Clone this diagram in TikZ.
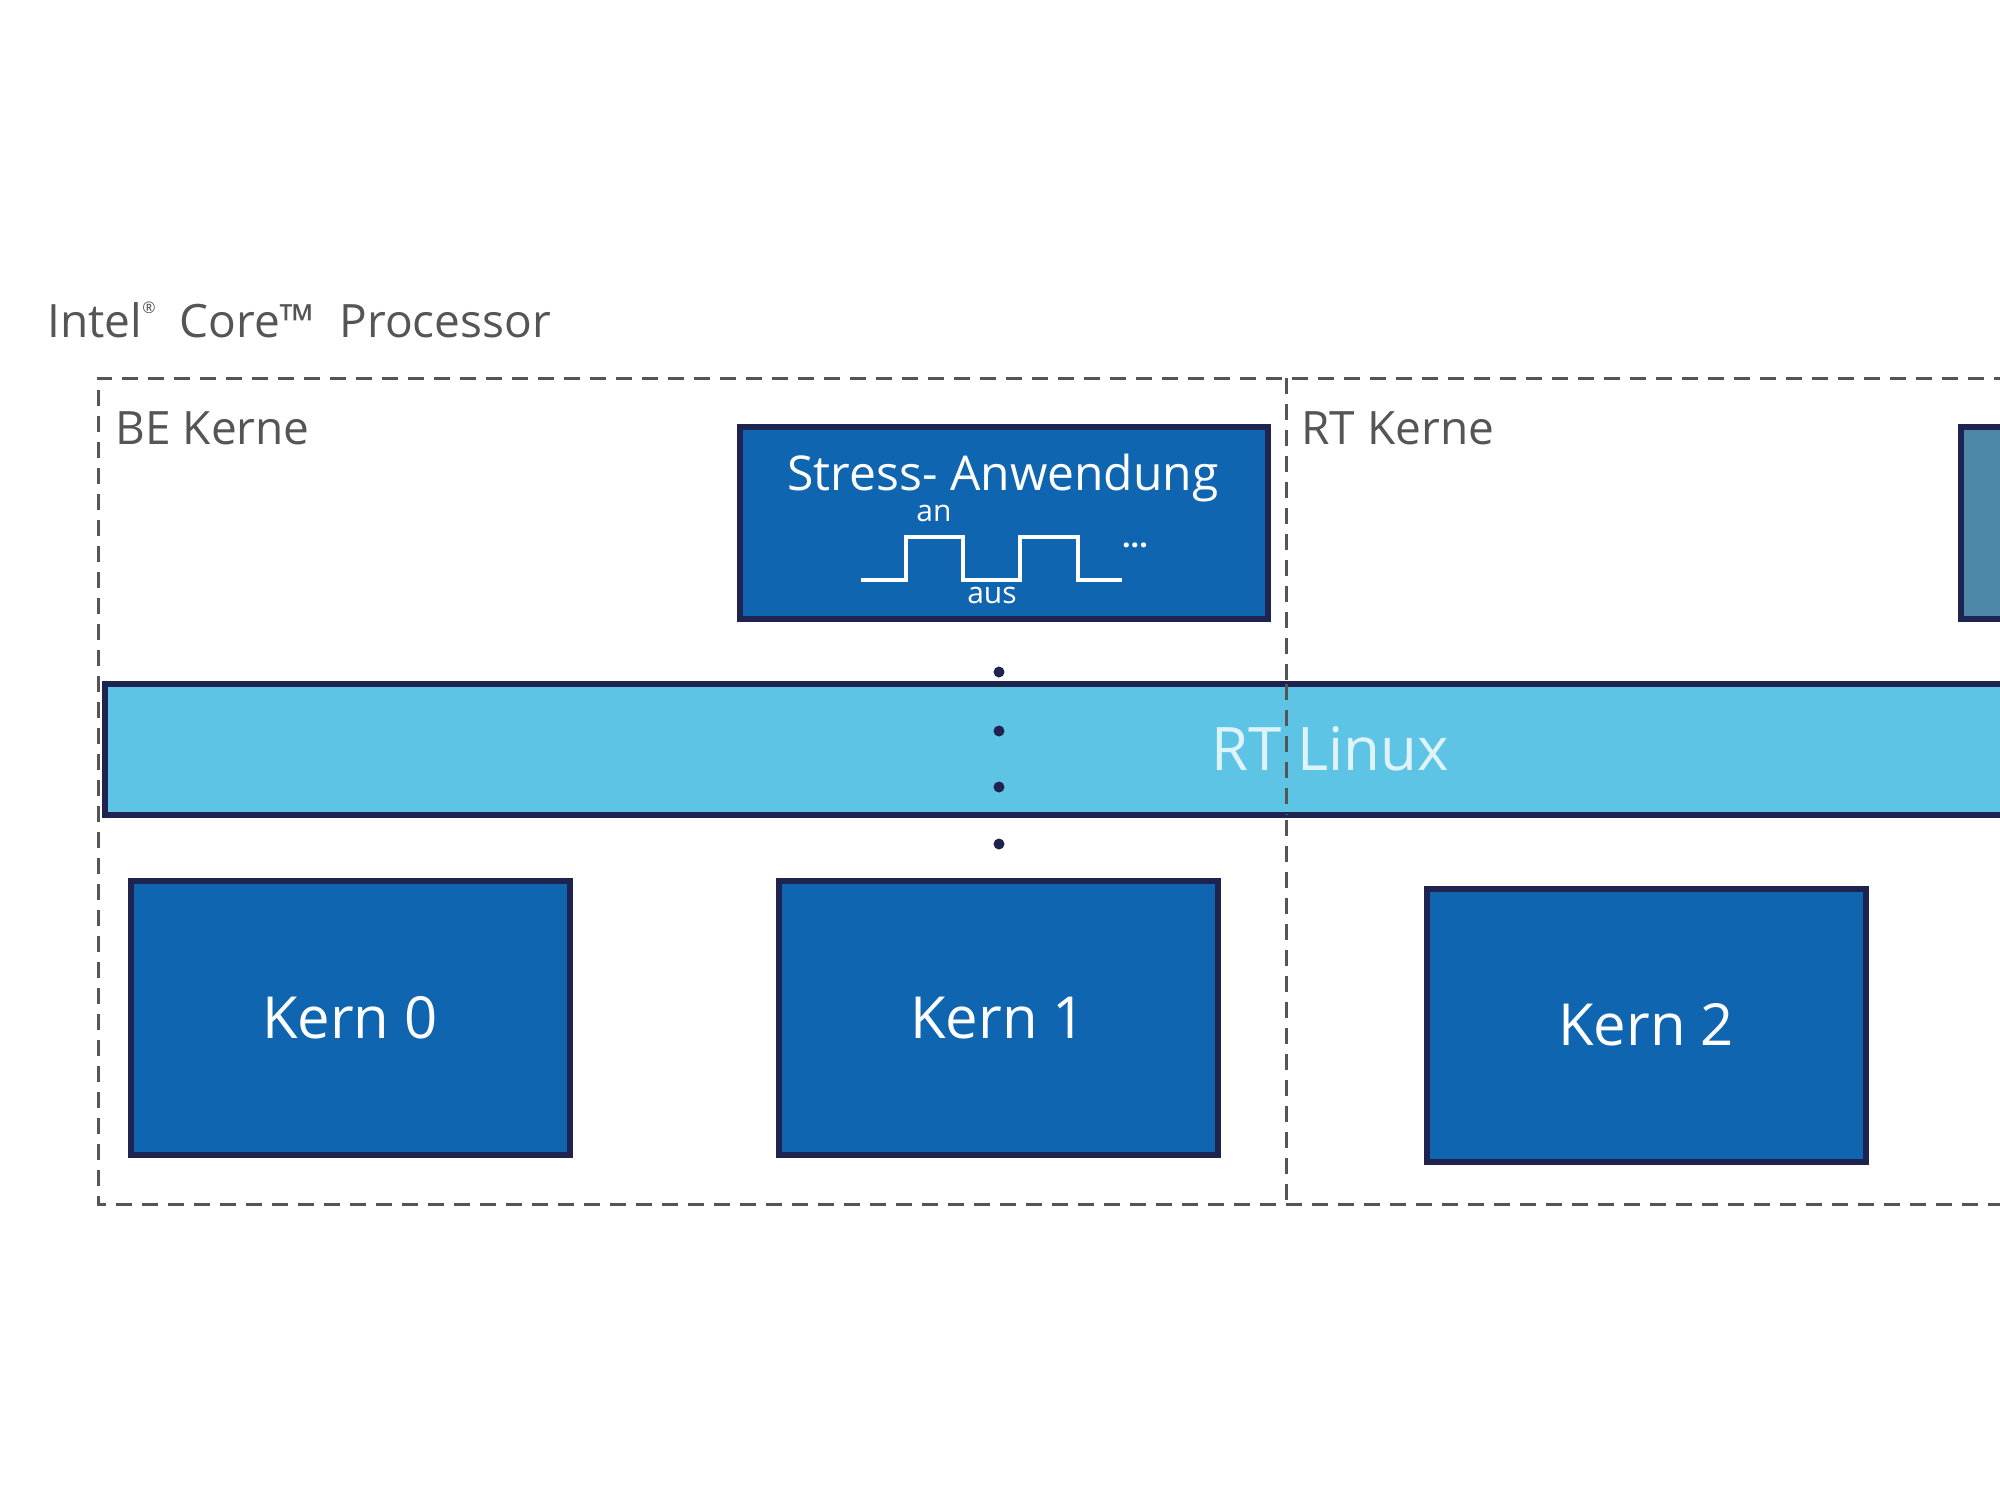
\documentclass[tikz,border=0pt]{standalone}
\usepackage{fontspec}
\setmainfont{Open Sans}
\definecolor{kblue}{HTML}{0F65B0}
\definecolor{kborder}{HTML}{1E2350}
\definecolor{lblue}{HTML}{5EC4E6}
\definecolor{steel}{HTML}{4F87A8}
\definecolor{tgrey}{HTML}{555555}
\begin{document}
\begin{tikzpicture}[x=1pt,y=-1pt,
  kbox/.style={draw=kborder,line width=6pt,fill=kblue},
  klabel/.style={text=white,font=\fontsize{58}{64}\selectfont},
  grp/.style={draw=tgrey,dash pattern=on 16pt off 10pt,line width=3pt},
  glabel/.style={text=tgrey,font=\fontsize{46}{52}\selectfont,anchor=west}]
\useasboundingbox (0,0) rectangle (2000,1500);
\clip (0,0) rectangle (2000,1500);
\node[text=tgrey,font=\fontsize{46}{52}\selectfont,anchor=west] (title) at (44,320) {Intel\raisebox{24pt}{\fontsize{16}{18}\selectfont ®}\ \ Core\texttrademark\ \ Processor};
\draw[grp] (2010,378) -- (98,378) -- (98,1204) -- (2010,1204);
\draw[grp] (1286,378) -- (1286,1204);
\node[glabel] (be) at (112,428) {BE Kerne};
\node[glabel] (rt) at (1298,428) {RT Kerne};
\draw[draw=kborder,line width=6pt,fill=lblue] (105,684) rectangle (2020,815);
\node[text=white!80!lblue,font=\fontsize{60}{64}\selectfont] (linux) at (1330,749) {RT Linux};
\draw[grp] (1286,684) -- (1286,815);
\draw[kbox] (740,427) rectangle (1268,619);
\node[text=white,font=\fontsize{48}{54}\selectfont] (stress) at (1003,478) {Stress- Anwendung};
\draw[white,line width=4pt] (861,580) -- (906,580) -- (906,537) -- (963,537) -- (963,580) -- (1020,580) -- (1020,537) -- (1078,537) -- (1078,580) -- (1122,580);
\node[text=white,font=\fontsize{30}{32}\selectfont] (an) at (934,513) {an};
\node[text=white,font=\fontsize{30}{32}\selectfont] (aus) at (992,595) {aus};
\node[text=white,font=\bfseries\fontsize{30}{32}\selectfont] (dots) at (1135,545) {...};
\draw[draw=kborder,line width=6pt,fill=steel] (1961,427) rectangle (2020,619);
\foreach \y in {672,731,787,844} \fill[kborder] (999,\y) circle (5.5pt);
\draw[kbox] (131,881) rectangle (570,1155);
\node[klabel] (k0) at (350,1018) {Kern 0};
\draw[kbox] (779,881) rectangle (1218,1155);
\node[klabel] (k1) at (998,1018) {Kern 1};
\draw[kbox] (1427,889) rectangle (1866,1162);
\node[klabel] (k2) at (1646,1025) {Kern 2};
\end{tikzpicture}
\end{document}
